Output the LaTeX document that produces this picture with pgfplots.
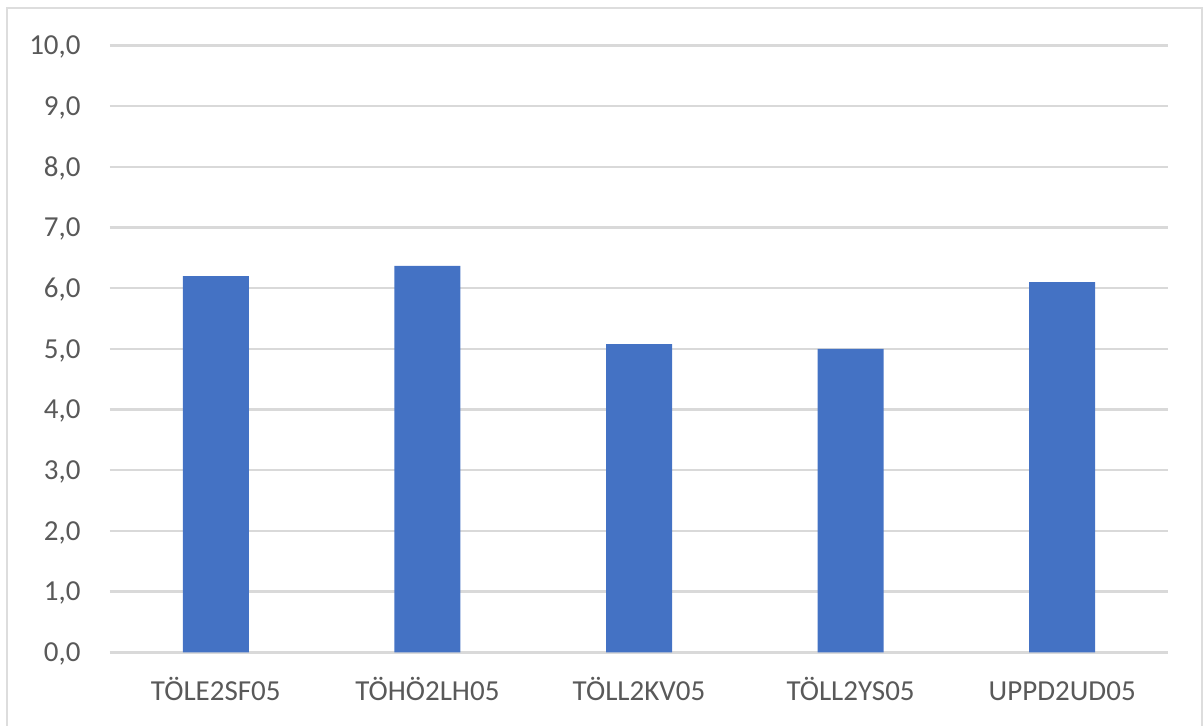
\documentclass[border=0pt]{standalone}
\usepackage{fontspec}
\setmainfont{Carlito}
\usepackage{pgfplots}
\pgfplotsset{compat=1.18}

\definecolor{barblue}{HTML}{4472C4}
\definecolor{gridgray}{HTML}{D9D9D9}
\definecolor{framegray}{HTML}{DDDDDD}
\definecolor{labelgray}{HTML}{595959}

\begin{document}
\begin{tikzpicture}
% 1 px of the reference = 0.5bp, origin at the lower left corner of the plot area
\useasboundingbox (-55bp,-36.85bp) rectangle (547bp,326.15bp);
\draw[framegray, line width=1bp] (-51.5bp,-45bp) -- (-51.5bp,322.15bp) -- (545.8bp,322.15bp) -- (545.8bp,-45bp);
\begin{axis}[
  at={(0,0)}, anchor=south west,
  scale only axis,
  width=529bp, height=303.4bp,
  xmin=-0.5, xmax=4.5,
  ymin=0, ymax=10,
  ytick={0,...,10},
  xtick={0,...,4},
  xticklabels={TÖLE2SF05,TÖHÖ2LH05,TÖLL2KV05,TÖLL2YS05,UPPD2UD05},
  axis line style={draw=none},
  major tick length=0pt,
  ymajorgrids,
  major grid style={gridgray, line width=1.2bp},
  font=\fontsize{14.5bp}{17bp}\selectfont,
  tick label style={labelgray},
  x tick label style={anchor=base, inner sep=0pt, yshift=-24bp},
  y tick label style={anchor=base east, inner sep=0pt, xshift=-14.5bp, yshift=-4.6bp},
  /pgf/number format/.cd, assume math mode=true, use comma, fixed, fixed zerofill, precision=1,
]
\addplot[ybar, bar width=33bp, fill=barblue, draw=none] coordinates {
  (0,6.20) (1,6.37) (2,5.08) (3,5.00) (4,6.10)
};
\end{axis}
\end{tikzpicture}
\end{document}
